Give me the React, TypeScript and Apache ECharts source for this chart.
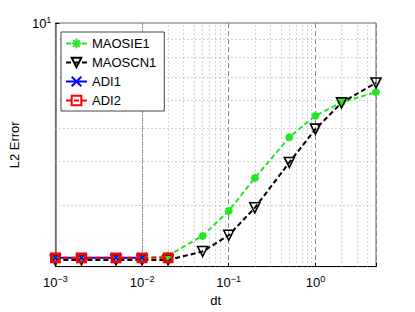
import React, { useEffect, useRef } from 'react';
import * as echarts from 'echarts';

const dtValues = [0.001, 0.002, 0.005, 0.01, 0.02, 0.05, 0.1, 0.2, 0.5, 1, 2, 5];
const maosie1 = [2.11, 2.11, 2.11, 2.11, 2.15, 2.45, 2.89, 3.59, 4.7, 5.42, 5.92, 6.33];
const maoscn1 = [2.09, 2.09, 2.09, 2.09, 2.09, 2.21, 2.46, 2.95, 3.98, 4.96, 5.9, 6.73];
const adi1 = [2.12, 2.12, 2.12, 2.12];
const adi2 = [2.12, 2.12, 2.12, 2.12, 2.12];
const seriesNames = ['MAOSIE1', 'MAOSCN1', 'ADI1', 'ADI2'];
const xName = 'dt';
const yName = 'L2 Error';
const xMinorGrid = [
  0.002, 0.003, 0.004, 0.005, 0.006, 0.007, 0.008, 0.009,
  0.02, 0.03, 0.04, 0.05, 0.06, 0.07, 0.08, 0.09,
  0.2, 0.3, 0.4, 0.5, 0.6, 0.7, 0.8, 0.9,
  2, 3, 4,
];
const yMinorGrid = [3, 4, 5, 6, 7, 8, 9];

const FONT = '"Liberation Sans", Arial, Helvetica, sans-serif';
const GREEN = '#22e622';

const pairs = (ys: number[]) => ys.map((y, i) => [dtValues[i], y]);

const powerLabel = (v: number) => {
  const e = Math.log10(v);
  const r = Math.round(e);
  if (Math.abs(e - r) > 1e-6) return '';
  const s = r < 0 ? '\u2212' + -r : String(r);
  return `{b|10}{s|${s}}`;
};

const rich = {
  b: { fontSize: 13, fontFamily: FONT, color: '#000', lineHeight: 16, verticalAlign: 'middle' },
  s: { fontSize: 9, fontFamily: FONT, color: '#000', lineHeight: 8, verticalAlign: 'top' },
};

const asterisk = 'path://M0,-5L0,5M-5,0L5,0M-3.5,-3.5L3.5,3.5M-3.5,3.5L3.5,-3.5';
const cross = 'path://M-5,-5L5,5M-5,5L5,-5';

export default function App() {
  const ref = useRef<HTMLDivElement>(null);
  useEffect(() => {
    if (!ref.current) return;
    const chart = echarts.init(ref.current, undefined, { renderer: 'svg' });
    const minorStyle = { color: '#aaa', width: 1, type: [1, 3] as any };
    chart.setOption({
      animation: false,
      backgroundColor: '#fff',
      grid: {
        left: 53,
        top: 23,
        right: 39,
        bottom: 37,
        show: true,
        borderColor: '#666',
        borderWidth: 1,
        backgroundColor: '#fff',
      },
      legend: {
        data: seriesNames,
        orient: 'vertical',
        left: 61,
        top: 32,
        itemWidth: 21,
        itemHeight: 12,
        itemGap: 6,
        padding: [5, 8, 4, 4],
        backgroundColor: '#fff',
        borderColor: '#444',
        borderWidth: 1,
        borderRadius: 0,
        textStyle: { fontSize: 13, fontFamily: FONT, color: '#000' },
      },
      xAxis: {
        type: 'log',
        min: 0.001,
        max: 5,
        logBase: 10,
        name: xName,
        nameLocation: 'middle',
        nameGap: 23,
        nameTextStyle: { fontSize: 13, fontFamily: FONT, color: '#000' },
        axisLine: { show: true, lineStyle: { color: '#000', width: 1 } },
        axisTick: { show: true, inside: true, length: 4, lineStyle: { color: '#000' } },
        axisLabel: { formatter: powerLabel, rich, margin: 8, showMinLabel: true, showMaxLabel: true },
        splitLine: { show: true, lineStyle: { color: '#888', width: 1, type: [5, 3] } },
        minorTick: { show: false },
      },
      yAxis: {
        type: 'log',
        min: 2,
        max: 10,
        logBase: 10,
        name: yName,
        nameLocation: 'middle',
        nameGap: 23,
        nameTextStyle: { fontSize: 13, fontFamily: FONT, color: '#000' },
        axisLine: { show: true, lineStyle: { color: '#666', width: 1.5 } },
        axisTick: { show: true, inside: true, length: 4, lineStyle: { color: '#000' } },
        axisLabel: { formatter: powerLabel, rich, margin: 4, showMinLabel: true, showMaxLabel: true },
        splitLine: { show: false },
      },
      series: [
        {
          name: 'grid-minor',
          type: 'line',
          data: [],
          z: 1,
          silent: true,
          markLine: {
            silent: true,
            symbol: 'none',
            z: 1,
            label: { show: false },
            lineStyle: minorStyle,
            emphasis: { disabled: true },
            data: [
              ...xMinorGrid.map((v) => ({ xAxis: v })),
              ...yMinorGrid.map((v) => ({ yAxis: v })),
            ],
          },
        },
        {
          name: seriesNames[0],
          type: 'line',
          data: pairs(maosie1),
          symbol: asterisk,
          symbolSize: 8,
          lineStyle: { color: GREEN, width: 2, type: [5, 3] },
          itemStyle: { color: GREEN, borderColor: GREEN, borderWidth: 2.2 },
          z: 3,
        },
        {
          name: seriesNames[1],
          type: 'line',
          data: pairs(maoscn1),
          symbol: 'triangle',
          symbolRotate: 180,
          symbolSize: 10,
          lineStyle: { color: '#000', width: 2, type: [5, 3] },
          itemStyle: { color: 'rgba(255,255,255,0)', borderColor: '#000', borderWidth: 1.6 },
          z: 3,
        },
        {
          name: seriesNames[2],
          type: 'line',
          data: pairs(adi1),
          symbol: cross,
          symbolSize: 10,
          lineStyle: { color: '#0000ff', width: 2, type: 'solid' },
          itemStyle: { color: '#0000ff', borderColor: '#0000ff', borderWidth: 1.6 },
          z: 3,
        },
        {
          name: seriesNames[3],
          type: 'line',
          data: pairs(adi2),
          symbol: 'rect',
          symbolSize: 8,
          lineStyle: { color: '#ff0000', width: 2, type: [5, 3] },
          itemStyle: { color: 'rgba(255,255,255,0)', borderColor: '#ff0000', borderWidth: 2.8 },
          z: 3,
        },
      ],
    });
    return () => chart.dispose();
  }, []);
  return (
    <div
      ref={ref}
      style={{ position: 'fixed', left: 0, top: 0, width: 415, height: 312, background: '#fff' }}
    />
  );
}
